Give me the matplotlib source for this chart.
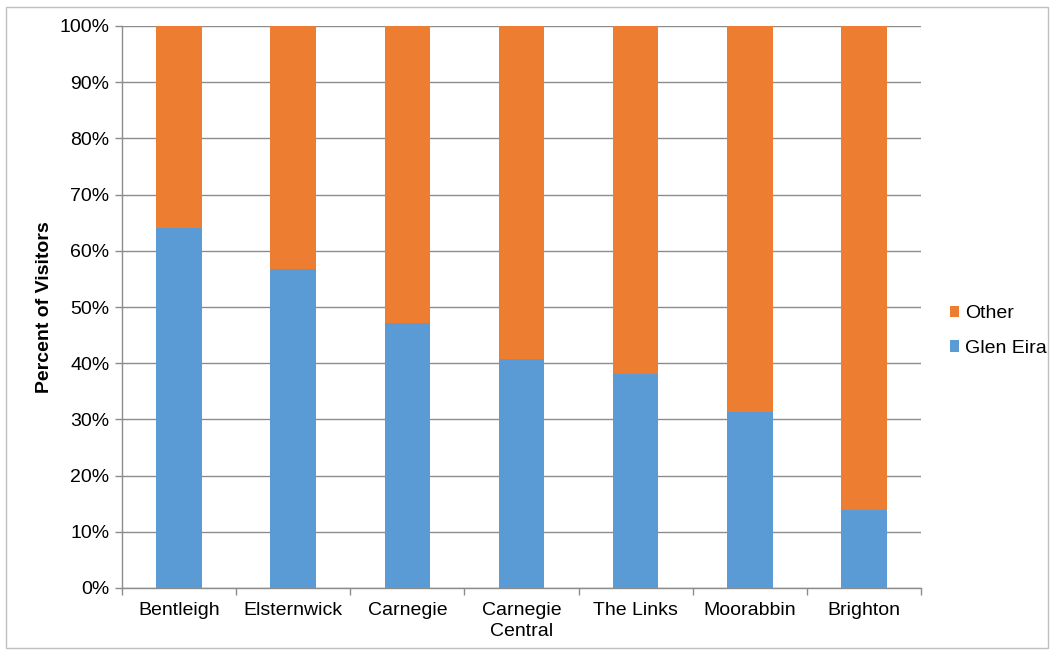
import matplotlib
matplotlib.use("Agg")
import matplotlib.pyplot as plt
from matplotlib.patches import Rectangle
from matplotlib.ticker import FixedLocator, PercentFormatter

plt.rcParams['font.family'] = ['Liberation Sans', 'DejaVu Sans']

categories = ["Bentleigh", "Elsternwick", "Carnegie", "Carnegie\nCentral",
              "The Links", "Moorabbin", "Brighton"]
glen_eira = [64.1, 56.8, 47.2, 40.7, 38.1, 31.4, 13.8]
other = [100 - v for v in glen_eira]

blue = "#5B9BD5"
orange = "#ED7D31"
grid_col = "#8C8C8C"

fig = plt.figure(figsize=(10.54, 6.53), dpi=100)
ax = fig.add_axes([122 / 1054, 1 - 588 / 653, (921 - 122) / 1054, (588 - 26) / 653])

x = list(range(len(categories)))
b1 = ax.bar(x, glen_eira, width=0.4, color=blue, label="Glen Eira", zorder=3)
b2 = ax.bar(x, other, width=0.4, bottom=glen_eira, color=orange, label="Other", zorder=3)

ax.set_xlim(-0.5, len(categories) - 0.5)
ax.set_ylim(0, 100)
ax.set_yticks(range(0, 101, 10))
ax.yaxis.set_major_formatter(PercentFormatter(decimals=0))
ax.yaxis.grid(True, color=grid_col, linewidth=1, zorder=0)

ax.set_xticks(x)
ax.set_xticklabels(categories, linespacing=1.3)
ax.xaxis.set_minor_locator(FixedLocator([i - 0.5 for i in range(len(categories) + 1)]))
ax.tick_params(axis='x', which='major', length=0, pad=10, labelsize=14, colors='#000000')
ax.tick_params(axis='x', which='minor', length=5, width=1, color=grid_col, direction='out')
ax.tick_params(axis='y', which='major', length=5, width=1, color=grid_col, labelsize=14,
               pad=4, direction='out')

for s in ("top", "right"):
    ax.spines[s].set_visible(False)
for s in ("left", "bottom"):
    ax.spines[s].set_color(grid_col)
    ax.spines[s].set_linewidth(1)

ax.set_ylabel("Percent of Visitors", fontsize=14, fontweight='bold', labelpad=5)

leg = ax.legend(handles=[b2, b1], loc='center left', bbox_to_anchor=(1.014, 0.457),
                frameon=False, fontsize=14, handlelength=0.5, handleheight=0.5,
                handletextpad=0.3, labelspacing=0.9)

fig.patches.append(Rectangle((6 / 1054, 5 / 653), 1 - 12 / 1054, 1 - 12 / 653,
                             transform=fig.transFigure, fill=False,
                             edgecolor="#BFBFBF", linewidth=1))

fig.savefig("out.png", dpi=100)
